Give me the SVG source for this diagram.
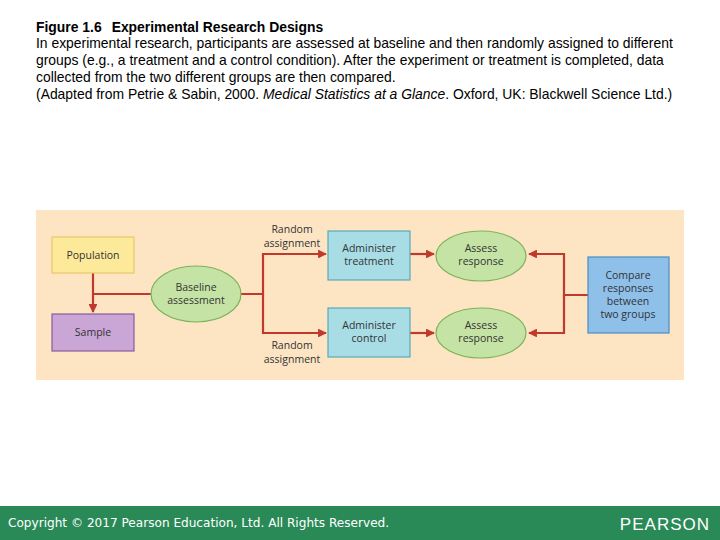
<svg xmlns="http://www.w3.org/2000/svg" width="720" height="540" viewBox="0 0 720 540">
<defs>
<style>
.h{font-family:"Liberation Sans",Arial,sans-serif;font-size:13.9px;fill:#000}
.t{font-family:"Open Sans","DejaVu Sans",sans-serif;font-size:10.5px;fill:#333;text-anchor:middle}
.ln{stroke:#c0392b;stroke-width:2.2;fill:none}
.box{stroke-width:1.2}
</style>
<marker id="a" viewBox="0 0 10 10" refX="9" refY="5" markerWidth="4" markerHeight="4" orient="auto"><path d="M0,0L10,5L0,10z" fill="#c0392b"/></marker>
</defs>
<rect width="720" height="540" fill="#fff"/>
<text class="h" x="36" y="32" font-weight="bold">Figure 1.6<tspan dx="10">Experimental Research Designs</tspan></text>
<text class="h" x="36" y="48">In experimental research, participants are assessed at baseline and then randomly assigned to different</text>
<text class="h" x="36" y="65">groups (e.g., a treatment and a control condition). After the experiment or treatment is completed, data</text>
<text class="h" x="36" y="82">collected from the two different groups are then compared.</text>
<text class="h" x="36" y="99">(Adapted from Petrie &amp; Sabin, 2000. <tspan font-style="italic">Medical Statistics at a Glance</tspan>. Oxford, UK: Blackwell Science Ltd.)</text>
<rect x="36" y="210" width="648" height="170" fill="#fde5c3"/>
<g id="connectors">
<path class="ln" d="M93,273V312" marker-end="url(#a)"/>
<path class="ln" d="M93,294H151"/>
<path class="ln" d="M241,294H263V254H326" marker-end="url(#a)"/>
<path class="ln" d="M263,294V333H326" marker-end="url(#a)"/>
<path class="ln" d="M410,254H434" marker-end="url(#a)"/>
<path class="ln" d="M410,333H434" marker-end="url(#a)"/>
<path class="ln" d="M588,295H564V254H529" marker-end="url(#a)"/>
<path class="ln" d="M564,295V333H529" marker-end="url(#a)"/>
</g>
<g id="population"><rect class="box" x="52" y="237" width="82" height="36" fill="#fde99a" stroke="#e8c86a"/><text class="t" x="93" y="259">Population</text></g>
<g id="sample"><rect class="box" x="52" y="314" width="82" height="37" fill="#c9a6d6" stroke="#8a5a9e"/><text class="t" x="93" y="336">Sample</text></g>
<g id="baseline"><ellipse class="box" cx="196" cy="294" rx="45" ry="28" fill="#c5e3a5" stroke="#7bb35a"/><text class="t" x="196" y="291">Baseline</text><text class="t" x="196" y="304">assessment</text></g>
<g id="label1"><text class="t" x="292" y="233">Random</text><text class="t" x="292" y="247">assignment</text></g>
<g id="label2"><text class="t" x="292" y="349">Random</text><text class="t" x="292" y="363">assignment</text></g>
<g id="treat"><rect class="box" x="328" y="231" width="82" height="49" fill="#a8dde6" stroke="#5aa9b8"/><text class="t" x="369" y="252">Administer</text><text class="t" x="369" y="265">treatment</text></g>
<g id="control"><rect class="box" x="328" y="308" width="82" height="49" fill="#a8dde6" stroke="#5aa9b8"/><text class="t" x="369" y="329">Administer</text><text class="t" x="369" y="342">control</text></g>
<g id="assess1"><ellipse class="box" cx="481" cy="256" rx="45" ry="25" fill="#c5e3a5" stroke="#7bb35a"/><text class="t" x="481" y="252">Assess</text><text class="t" x="481" y="265">response</text></g>
<g id="assess2"><ellipse class="box" cx="481" cy="333" rx="45" ry="25" fill="#c5e3a5" stroke="#7bb35a"/><text class="t" x="481" y="329">Assess</text><text class="t" x="481" y="342">response</text></g>
<g id="compare"><rect class="box" x="588" y="257" width="81" height="76" fill="#8fc0ea" stroke="#4a8cc4"/><text class="t" x="628" y="279">Compare</text><text class="t" x="628" y="292">responses</text><text class="t" x="628" y="305">between</text><text class="t" x="628" y="318">two groups</text></g>
<rect x="0" y="506" width="720" height="34" fill="#2a8a57"/>
<text x="8" y="527" font-family="'DejaVu Sans',sans-serif" font-size="12.1" fill="#fff">Copyright © 2017 Pearson Education, Ltd. All Rights Reserved.</text>
<text x="710" y="530" text-anchor="end" font-family="'Liberation Sans',sans-serif" font-size="17" letter-spacing="1" fill="#fff">PEARSON</text>
</svg>
